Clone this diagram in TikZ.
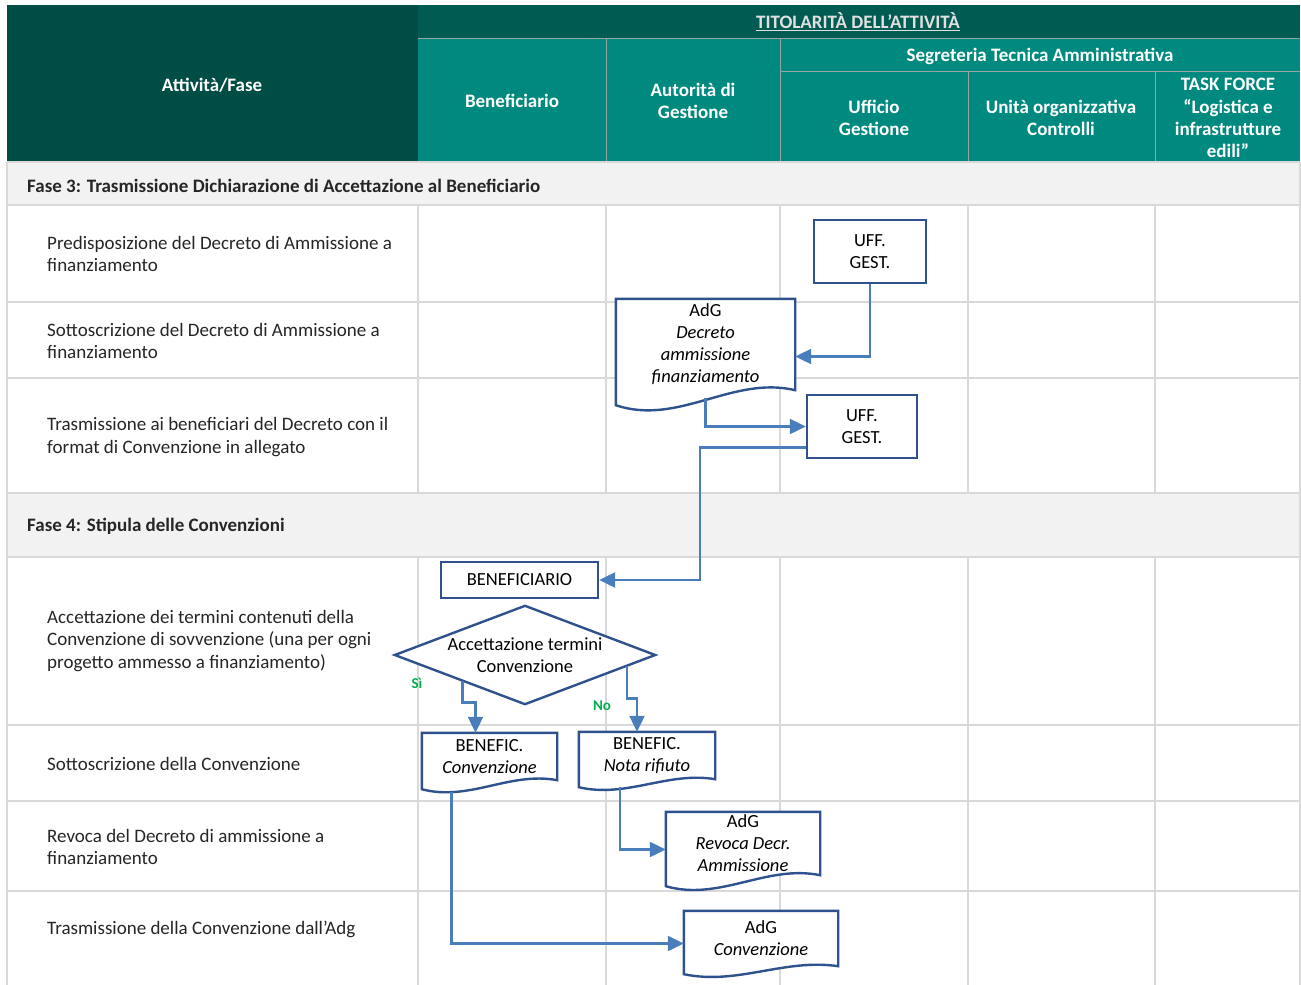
\documentclass[tikz,border=0pt]{standalone}
\usepackage{fontspec}
\setmainfont{Carlito}
\usetikzlibrary{arrows.meta,calc}
\definecolor{hdark}{RGB}{0,77,70}
\definecolor{htitle}{RGB}{0,92,83}
\definecolor{hteal}{RGB}{0,138,127}
\definecolor{hline}{RGB}{150,165,162}
\definecolor{bandgray}{RGB}{242,242,242}
\definecolor{gridgray}{RGB}{217,217,217}
\definecolor{boxblue}{RGB}{47,82,143}
\definecolor{arrblue}{RGB}{74,126,187}
\definecolor{okgreen}{RGB}{0,176,80}
\pgfdeclarelayer{bg}
\pgfdeclarelayer{shapes}
\pgfsetlayers{bg,shapes,main}
\tikzset{
  hdrtext/.style={text=white, font=\bfseries\fontsize{19}{22.3}\selectfont, align=center, inner sep=0pt},
  bodytext/.style={font=\fontsize{19}{22.3}\selectfont, align=left, anchor=west, inner sep=0pt, text=black!85},
  fasetext/.style={font=\bfseries\fontsize{19}{22.3}\selectfont, anchor=west, inner sep=0pt, text=black!85},
  box/.style={draw=boxblue, line width=2.4pt, fill=white, inner sep=0pt, align=center, font=\fontsize{18.5}{22}\selectfont},
  docnode/.style={inner sep=0pt, align=center, font=\fontsize{18.5}{22}\selectfont},
  docline/.style={draw=boxblue, line width=2.4pt, fill=white},
  arr/.style={draw=arrblue, line width=2.2pt, -{Triangle[length=16pt,width=15pt]}},
  gridline/.style={draw=gridgray, line width=2pt},
  hdrline/.style={draw=hline, line width=1pt},
  yesno/.style={text=okgreen, font=\bfseries\fontsize{15}{17}\selectfont, inner sep=0pt}
}
\newcommand\docoutline[2]{%
  \begin{pgfonlayer}{shapes}
  \draw[docline] (#1.north west) -- (#1.north east) -- (#1.south east)
    .. controls ($(#1.south west)!0.65!(#1.south east)+(0,{-1.0*#2})$)
    and ($(#1.south west)!0.35!(#1.south east)+(0,{2.4*#2})$)
    .. ($(#1.south west)+(0,#2)$) -- cycle;
  \end{pgfonlayer}}
\begin{document}
\begin{tikzpicture}[x=1pt,y=-1pt]
\useasboundingbox (0,0) rectangle (1301,985);
\begin{pgfonlayer}{bg}
\fill[white] (0,0) rectangle (1301,985);
% header
\fill[hdark] (7,5) rectangle (418,162);
\fill[htitle] (418,5) rectangle (1300,38);
\fill[hteal] (418,38) rectangle (1300,162);
\draw[hdrline] (418,38) -- (1300,38);
\draw[hdrline] (780,71) -- (1300,71);
\draw[hdrline] (606,38) -- (606,162);
\draw[hdrline] (780,38) -- (780,162);
\draw[hdrline] (968,71) -- (968,162);
\draw[hdrline] (1155,71) -- (1155,162);
% bands
\fill[bandgray] (7,162) rectangle (1300,205);
\fill[bandgray] (7,493) rectangle (1300,557);
% grid
\foreach \yy in {162,205,302,378,493,557,725,801,891}
  \draw[gridline] (7,\yy) -- (1300,\yy);
\foreach \xx in {418,606,780,968,1155}{
  \draw[gridline] (\xx,205) -- (\xx,493);
  \draw[gridline] (\xx,557) -- (\xx,985);}
\draw[gridline] (7,162) -- (7,985);
\draw[gridline] (1300,162) -- (1300,985);
\end{pgfonlayer}

% header texts
\node[hdrtext] (hAtt) at (212,85) {Attività/Fase};
\node[hdrtext, text=white!88!black] (hTit) at (858,22) {\underline{TITOLARITÀ DELL’ATTIVITÀ}};
\node[hdrtext] (hSeg) at (1040,56) {Segreteria Tecnica Amministrativa};
\node[hdrtext] (hBen) at (512,101) {Beneficiario};
\node[hdrtext] (hAdG) at (693,101) {Autorità di\\Gestione};
\node[hdrtext] (hUff) at (874,118) {Ufficio\\Gestione};
\node[hdrtext] (hUni) at (1061,118) {Unità organizzativa\\Controlli};
\node[hdrtext] (hTask) at (1228,118) {TASK FORCE\\“Logistica e\\infrastrutture\\edili”};

% phase bands
\node[fasetext] (f3) at (27,186) {Fase 3: Trasmissione Dichiarazione di Accettazione al Beneficiario};
\node[fasetext] (f4) at (27,526) {Fase 4: Stipula delle Convenzioni};

% activity texts
\node[bodytext] (a1) at (47,254) {Predisposizione del Decreto di Ammissione a\\finanziamento};
\node[bodytext] (a2) at (47,341) {Sottoscrizione del Decreto di Ammissione a\\finanziamento};
\node[bodytext] (a3) at (47,437) {Trasmissione ai beneficiari del Decreto con il\\format di Convenzione in allegato};
\node[bodytext] (a4) at (47,641) {Accettazione dei termini contenuti della\\Convenzione di sovvenzione (una per ogni\\progetto ammesso a finanziamento)};
\node[bodytext] (a5) at (47,764) {Sottoscrizione della Convenzione};
\node[bodytext] (a6) at (47,847) {Revoca del Decreto di ammissione a\\finanziamento};
\node[bodytext] (a7) at (47,929) {Trasmissione della Convenzione dall’Adg};

% flow nodes
\node[box, minimum width=112pt, minimum height=63pt] (uff1) at (870,251.5) {UFF.\\GEST.};
\node[docnode, minimum width=179pt, minimum height=91pt] (adg1) at (705.5,344.5) {AdG\\\textit{Decreto}\\\textit{ammissione}\\\textit{finanziamento}};
\docoutline{adg1}{15}
\node[box, minimum width=110pt, minimum height=63pt] (uff2) at (862,426.5) {UFF.\\GEST.};
\node[box, minimum width=157pt, minimum height=36pt] (bene) at (519.5,580) {BENEFICIARIO};
\node[docnode, minimum width=260pt, minimum height=98pt] (dec) at (525,655) {Accettazione termini\\Convenzione};
\begin{pgfonlayer}{shapes}
\draw[docline] (dec.west) -- (dec.north) -- (dec.east) -- (dec.south) -- cycle;
\end{pgfonlayer}
\node[docnode, minimum width=135pt, minimum height=47pt] (conv) at (489.5,756.5) {BENEFIC.\\\textit{Convenzione}};
\docoutline{conv}{9}
\node[docnode, minimum width=136pt, minimum height=47pt] (nota) at (647,755.5) {BENEFIC.\\\textit{Nota rifiuto}};
\docoutline{nota}{8}
\node[docnode, minimum width=154pt, minimum height=63pt] (revoca) at (743,843.5) {AdG\\\textit{Revoca Decr.}\\\textit{Ammissione}};
\docoutline{revoca}{11}
\node[docnode, minimum width=154pt, minimum height=55pt] (adgconv) at (761,938.5) {AdG\\\textit{Convenzione}};
\docoutline{adgconv}{8}

% labels
\node[yesno] (si) at (417,683) {Sì};
\node[yesno] (no) at (602,706) {No};

% connectors
\draw[arr] (uff1.south) |- ($(adg1.east)+(0,12)$);
\draw[arr] ($(adg1.south)+(0,8)$) |- (uff2.west);
\draw[arr] ($(uff2.west)+(0,21)$) -- ++(-106,0) |- (bene.east);
\coordinate (siStart) at ($(dec.west)!0.52!(dec.south)$);
\coordinate (noStart) at ($(dec.east)!0.215!(dec.south)$);
\draw[arr] (siStart) -- ($(siStart)+(0,22)$) -| ($(conv.north)+(-14,0)$);
\draw[arr] (noStart) -- ($(noStart)+(0,33)$) -| ($(nota.north)+(-10,0)$);
\draw[arr] ($(nota.south)+(-27,8)$) |- ($(revoca.west)+(0,6)$);
\draw[arr] ($(conv.south)+(-38,12)$) |- ($(adgconv.west)+(0,5)$);
\end{tikzpicture}
\end{document}
